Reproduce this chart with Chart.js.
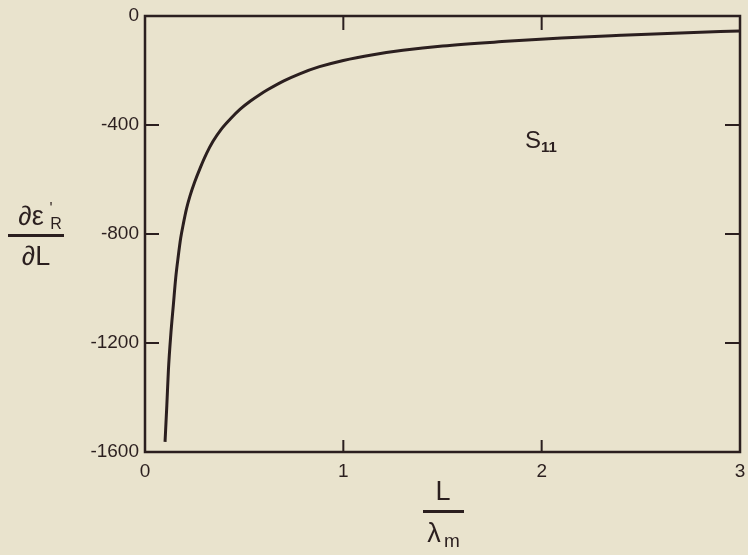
<!DOCTYPE html>
<html>
<head>
<meta charset="utf-8">
<script src="https://cdn.jsdelivr.net/npm/chart.js@4"></script>
<style>
  body { margin: 0; background: #e9e3cd; }
  #wrap { width: 748px; height: 555px; }
</style>
</head>
<body>
<div id="wrap"><canvas id="c" width="748" height="555"></canvas></div>
<script>
// values (L/lambda_m, d eps'_R / dL)
const xVals = [0.101, 0.11, 0.118, 0.13, 0.143, 0.155, 0.168, 0.18, 0.194, 0.21, 0.227, 0.25, 0.278, 0.31, 0.343, 0.385, 0.43, 0.48, 0.53, 0.58, 0.62, 0.70, 0.78, 0.88, 1.0, 1.15, 1.3, 1.5, 1.8, 2.1, 2.4, 2.7, 3.0];
const yVals = [-1563, -1430, -1300, -1170, -1060, -960, -880, -815, -760, -705, -660, -610, -558, -505, -460, -415, -378, -342, -313, -288, -270, -238, -212, -186, -163, -142, -126, -110, -94, -81, -71, -62, -55];
const xTicks = [0, 1, 2, 3];
const yTicks = [0, -400, -800, -1200, -1600];

const ink = '#2b1f1f';
const font = '"Liberation Sans", Arial, sans-serif';

const points = xVals.map((x, i) => ({ x: x, y: yVals[i] }));

// frame, inward ticks and the labels
const decor = {
  id: 'decor',
  afterDraw(chart) {
    const { ctx, chartArea: a, scales } = chart;
    ctx.save();
    ctx.strokeStyle = ink;
    ctx.lineWidth = 2.5;
    ctx.strokeRect(a.left, a.top, a.right - a.left, a.bottom - a.top);
    ctx.lineWidth = 2;
    xTicks.slice(1, -1).forEach(v => {
      const px = scales.x.getPixelForValue(v);
      ctx.beginPath();
      ctx.moveTo(px, a.bottom); ctx.lineTo(px, a.bottom - 12);
      ctx.moveTo(px, a.top); ctx.lineTo(px, a.top + 14);
      ctx.stroke();
    });
    yTicks.slice(1, -1).forEach(v => {
      const py = scales.y.getPixelForValue(v);
      ctx.beginPath();
      ctx.moveTo(a.left, py); ctx.lineTo(a.left + 14, py);
      ctx.moveTo(a.right, py); ctx.lineTo(a.right - 15, py);
      ctx.stroke();
    });

    ctx.fillStyle = ink;
    ctx.textAlign = 'center';
    ctx.textBaseline = 'middle';

    // x axis title: L / lambda_m
    ctx.font = '27px ' + font;
    ctx.fillText('L', 443, 493);
    ctx.fillRect(423, 510, 41, 3);
    ctx.fillText('λ', 434, 535);
    ctx.font = '19px ' + font;
    ctx.fillText('m', 452, 542);

    // y axis title: d eps'_R / dL
    ctx.font = '27px ' + font;
    ctx.fillText('∂ε', 31, 218);
    ctx.font = '16px ' + font;
    ctx.fillText('\'', 51, 210);
    ctx.fillText('R', 56, 225);
    ctx.fillRect(8, 234, 56, 3);
    ctx.font = '27px ' + font;
    ctx.fillText('∂L', 36, 258);

    // curve label
    ctx.font = '24px ' + font;
    ctx.fillText('S', 533, 141);
    ctx.font = 'bold 15px ' + font;
    ctx.fillText('11', 549, 148);
    ctx.restore();
  }
};

new Chart(document.getElementById('c'), {
  type: 'scatter',
  data: {
    datasets: [{
      data: points,
      showLine: true,
      borderColor: ink,
      borderWidth: 3,
      pointRadius: 0,
      cubicInterpolationMode: 'monotone'
    }]
  },
  options: {
    responsive: false,
    animation: false,
    layout: { padding: { top: 16, right: 8, left: 0, bottom: 0 } },
    plugins: { legend: { display: false }, tooltip: { enabled: false } },
    scales: {
      x: {
        type: 'linear', min: 0, max: 3,
        afterFit: s => { s.height = 103; s.paddingRight = 0; s.paddingLeft = 0; },
        grid: { display: false, drawTicks: false },
        border: { display: false },
        ticks: { stepSize: 1, padding: 8, color: ink, font: { family: font, size: 19 },
                 callback: v => String(v) }
      },
      y: {
        min: -1600, max: 0,
        afterFit: s => { s.width = 145; s.paddingTop = 0; s.paddingBottom = 0; },
        grid: { display: false, drawTicks: false },
        border: { display: false },
        ticks: { stepSize: 400, padding: 6, color: ink, font: { family: font, size: 19 },
                 callback: v => String(v) }
      }
    }
  },
  plugins: [decor]
});
</script>
</body>
</html>
